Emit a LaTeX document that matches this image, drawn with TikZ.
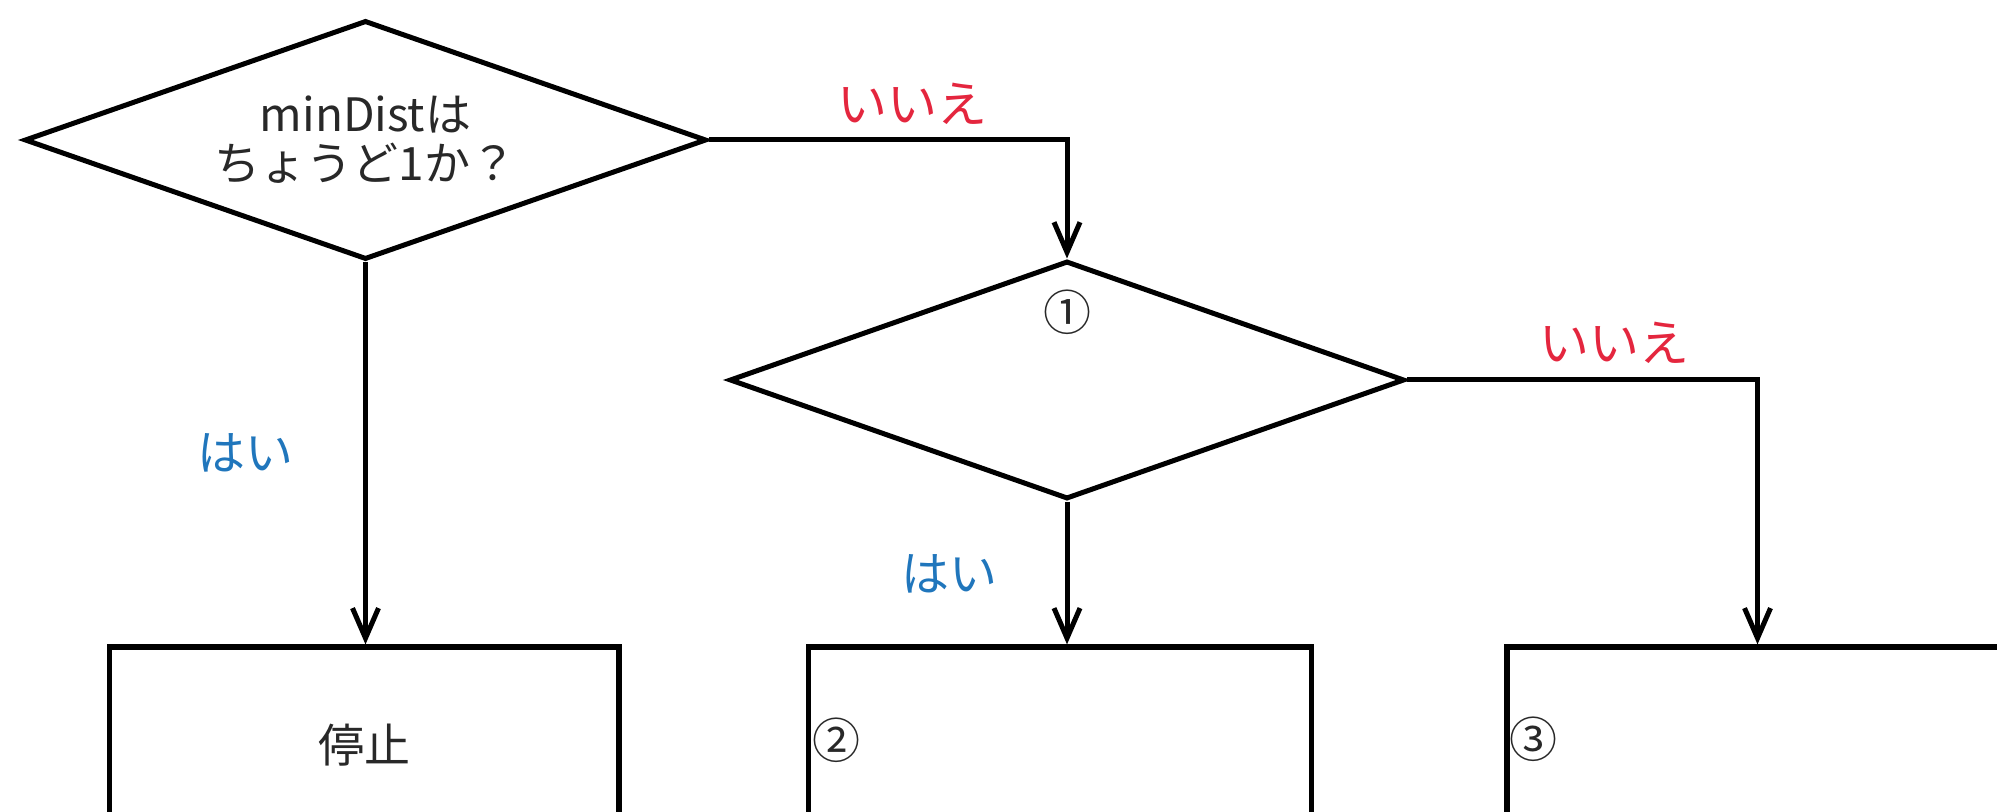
\documentclass[tikz,border=0pt]{standalone}
\usepackage{fontspec}
\setmainfont{Noto Sans CJK JP}
\usetikzlibrary{shapes.geometric,arrows.meta}
\definecolor{nolabel}{RGB}{228,38,62}
\definecolor{yeslabel}{RGB}{32,118,188}
\definecolor{ink}{RGB}{40,40,40}

\begin{document}
\begin{tikzpicture}[x=0.5pt,y=-0.5pt,
  flow/.style={line width=2.5pt,
    -{Straight Barb[length=15pt,width=13pt,line width=2.5pt]}},
  decision/.style={diamond, draw, line width=2.5pt, inner sep=0pt,
    aspect=2.85, align=center, text=ink,
    font=\fontsize{23pt}{24.5pt}\selectfont},
  process/.style={rectangle, draw, line width=2.6pt, inner sep=0pt,
    minimum height=98pt, text=ink,
    font=\fontsize{23pt}{27pt}\selectfont},
  circnum/.style={text=ink, inner sep=0pt, font=\fontsize{24pt}{26pt}\selectfont},
  yeslbl/.style={text=yeslabel, inner sep=0pt, font=\fontsize{24pt}{27pt}\selectfont},
  nolbl/.style={text=nolabel, inner sep=0pt, font=\fontsize{25pt}{28pt}\selectfont}]

\useasboundingbox (0,0) rectangle (1997,812);
\clip (0,0) rectangle (1997,812);

% decisions
\node[decision, minimum width=341pt, minimum height=119.5pt]
  (d1) at (365.5,140) {minDistは\\ちょうど1か？};
\node[decision, minimum width=337.5pt, minimum height=119pt]
  (d2) at (1067,380) {};
\node[circnum] (m1) at (1067,312) {①};

% processes (cut by the lower edge)
\node[process, minimum width=254.75pt] (p1) at (364.25,745) {停止};
\node[process, minimum width=251.5pt] (p2) at (1060.35,745) {};
\node[process, minimum width=250.5pt] (p3) at (1757.5,745) {};
\node[circnum] (m2) at (836,740) {②};
\node[circnum] (m3) at (1533,739) {③};

% connectors
\draw[flow] (d1.east) -| (d2.north);
\draw[flow] (d1.south) -- (d1.south |- p1.north);
\draw[flow] (d2.south) -- (d2.south |- p2.north);
\draw[flow] (d2.east) -| (p3.north);

% branch labels
\node[nolbl] (n1) at (912,104) {いいえ};
\node[nolbl] (n2) at (1614,343) {いいえ};
\node[yeslbl] (y1) at (245,453) {はい};
\node[yeslbl] (y2) at (949,574) {はい};
\end{tikzpicture}
\end{document}
